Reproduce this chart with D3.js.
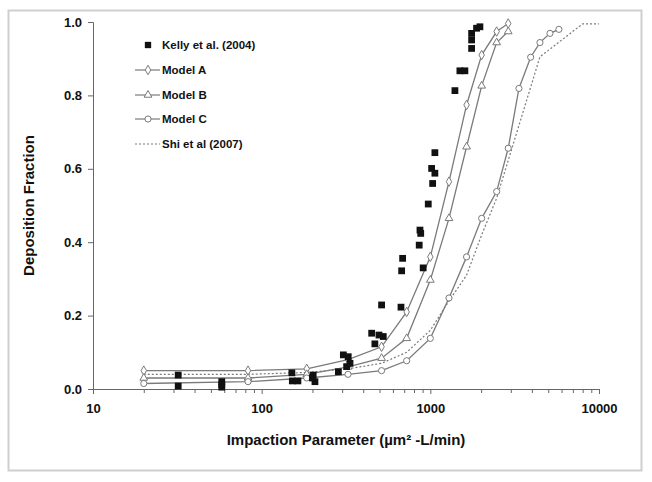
<!DOCTYPE html>
<html>
<head>
<meta charset="utf-8">
<script src="https://cdn.jsdelivr.net/npm/d3@7"></script>
<style>
  body { margin: 0; background: #fff; }
  svg text { font-family: "Liberation Sans", Arial, sans-serif; font-weight: bold; fill: #111; }
</style>
</head>
<body>
<div id="chart"></div>
<script>
// Kelly et al. (2004) measured points [impaction parameter, fraction]
const kelly = [
  [32, 0.038], [32, 0.008], [58, 0.02], [58, 0.005], [58, 0.012],
  [151, 0.044], [152, 0.022], [164, 0.022], [202, 0.038], [207, 0.02], [200, 0.03],
  [285, 0.047], [305, 0.093], [326, 0.088], [334, 0.07], [319, 0.061],
  [449, 0.152], [496, 0.147], [526, 0.143], [469, 0.123], [514, 0.229],
  [670, 0.223], [685, 0.356], [676, 0.322], [907, 0.33], [859, 0.392],
  [868, 0.433], [877, 0.424], [972, 0.504], [1032, 0.56], [1064, 0.588],
  [1018, 0.601], [1064, 0.644], [1399, 0.813], [1497, 0.867], [1603, 0.867],
  [1757, 0.928], [1757, 0.951], [1757, 0.969], [1880, 0.983], [1968, 0.987]
]

const modelA = [
  [20, 0.05], [83, 0.05], [185, 0.055], [325, 0.08], [514, 0.115], [724, 0.21],
  [1000, 0.36], [1290, 0.565], [1640, 0.774], [2015, 0.91], [2473, 0.974], [2896, 0.996]
]
const modelB = [
  [20, 0.03], [83, 0.03], [185, 0.04], [325, 0.06], [514, 0.084], [724, 0.138],
  [1000, 0.297], [1290, 0.465], [1640, 0.66], [2015, 0.826], [2473, 0.944], [2896, 0.974]
]
const modelC = [
  [20, 0.015], [83, 0.02], [185, 0.03], [325, 0.04], [514, 0.05], [724, 0.077],
  [1000, 0.138], [1290, 0.248], [1640, 0.36], [2015, 0.465], [2473, 0.538],
  [2896, 0.656], [3352, 0.819], [3934, 0.904], [4465, 0.944], [5120, 0.969], [5785, 0.98]
]
// Shi et al (2007): dotted line, no markers
const shi = [
  [20, 0.04], [83, 0.04], [185, 0.045], [325, 0.055], [514, 0.07], [724, 0.1],
  [1000, 0.16], [1290, 0.24], [1640, 0.31], [2015, 0.42], [2473, 0.52],
  [4465, 0.905], [8000, 0.995], [10000, 0.995]
]

const xMajor = [10, 100, 1000, 10000]
const yTicks = [0, 0.2, 0.4, 0.6, 0.8, 1.0]

const legendItems = ["Kelly et al. (2004)", "Model A", "Model B", "Model C", "Shi et al (2007)"]

var margin = { top: 22, right: 53, bottom: 93, left: 93 }
var W = 652, H = 482

var svg = d3.select("#chart").append("svg")
  .attr("width", W)
  .attr("height", H)

// outer chart frame
svg.append("rect")
  .attr("x", 8.5).attr("y", 10.5)
  .attr("width", 633).attr("height", 460)
  .attr("fill", "none")
  .attr("stroke", "#cfcfcf")
  .attr("stroke-width", 2)

var x = d3.scaleLog()
  .domain([10, 10000])
  .range([margin.left, W - margin.right])

var y = d3.scaleLinear()
  .domain([0, 1])
  .range([H - margin.bottom, margin.top])

// minor x ticks
var minor = []
xMajor.slice(0, -1).forEach(function(p) {
  for (var k = 2; k < 10; k++) minor.push(p * k)
})
svg.append("g")
  .attr("transform", "translate(0," + y(0) + ")")
  .call(d3.axisBottom(x).tickValues(minor).tickSize(4).tickFormat(""))
  .call(g => g.select(".domain").remove())
  .selectAll("line").attr("stroke", "#666")

var xAxis = svg.append("g")
  .attr("transform", "translate(0," + y(0) + ")")
  .call(d3.axisBottom(x).tickValues(xMajor).tickSize(5).tickPadding(10).tickFormat(d3.format("d")))
xAxis.select(".domain").attr("stroke", "#666")
xAxis.selectAll("line").attr("stroke", "#666")
xAxis.selectAll("text").style("font-size", "13px").attr("fill", "#111")

var yAxis = svg.append("g")
  .attr("transform", "translate(" + x(10) + ",0)")
  .call(d3.axisLeft(y).tickValues(yTicks).tickSize(5).tickPadding(6).tickFormat(d3.format(".1f")))
yAxis.select(".domain").attr("stroke", "#666")
yAxis.selectAll("line").attr("stroke", "#666")
yAxis.selectAll("text").style("font-size", "13px").attr("fill", "#111")

// axis titles
svg.append("text")
  .attr("x", (x(10) + x(10000)) / 2)
  .attr("y", 445)
  .attr("text-anchor", "middle")
  .style("font-size", "15px")
  .text("Impaction Parameter (µm² -L/min)")

svg.append("text")
  .attr("transform", "translate(34," + ((y(0) + y(1)) / 2) + ") rotate(-90)")
  .attr("text-anchor", "middle")
  .style("font-size", "15px")
  .text("Deposition Fraction")

var line = d3.line()
  .x(d => x(d[0]))
  .y(d => y(d[1]))

var grey = "#7a7a7a"

svg.append("path").datum(shi)
  .attr("d", line)
  .attr("fill", "none")
  .attr("stroke", grey)
  .attr("stroke-width", 1.2)
  .attr("stroke-dasharray", "2,2")

var models = [
  { data: modelA, sym: d3.symbolDiamond, size: 26 },
  { data: modelB, sym: d3.symbolTriangle, size: 26 },
  { data: modelC, sym: d3.symbolCircle, size: 30 }
]

models.forEach(function(m) {
  svg.append("path").datum(m.data)
    .attr("d", line)
    .attr("fill", "none")
    .attr("stroke", grey)
    .attr("stroke-width", 1.3)
  svg.selectAll(null)
    .data(m.data)
    .enter()
    .append("path")
      .attr("transform", d => "translate(" + x(d[0]) + "," + y(d[1]) + ")")
      .attr("d", d3.symbol().type(m.sym).size(m.size))
      .attr("fill", "white")
      .attr("stroke", grey)
      .attr("stroke-width", 1)
})

svg.selectAll(null)
  .data(kelly)
  .enter()
  .append("path")
    .attr("transform", d => "translate(" + x(d[0]) + "," + y(d[1]) + ")")
    .attr("d", d3.symbol().type(d3.symbolSquare).size(46))
    .attr("fill", "#111")

// legend
var legY = [45, 70, 95, 119, 144]
var lg = svg.append("g")
legendItems.forEach(function(name, i) {
  var ly = legY[i]
  if (i === 0) {
    lg.append("path")
      .attr("transform", "translate(148," + ly + ")")
      .attr("d", d3.symbol().type(d3.symbolSquare).size(40))
      .attr("fill", "#111")
  } else {
    lg.append("line")
      .attr("x1", 135).attr("x2", 160)
      .attr("y1", ly).attr("y2", ly)
      .attr("stroke", grey)
      .attr("stroke-width", 1.2)
      .attr("stroke-dasharray", i === 4 ? "2,2" : null)
    if (i < 4) {
      lg.append("path")
        .attr("transform", "translate(148," + ly + ")")
        .attr("d", d3.symbol().type(models[i - 1].sym).size(models[i - 1].size))
        .attr("fill", "white")
        .attr("stroke", grey)
    }
  }
  lg.append("text")
    .attr("x", 162)
    .attr("y", ly + 4)
    .style("font-size", "11.5px")
    .text(name)
})
</script>
</body>
</html>
